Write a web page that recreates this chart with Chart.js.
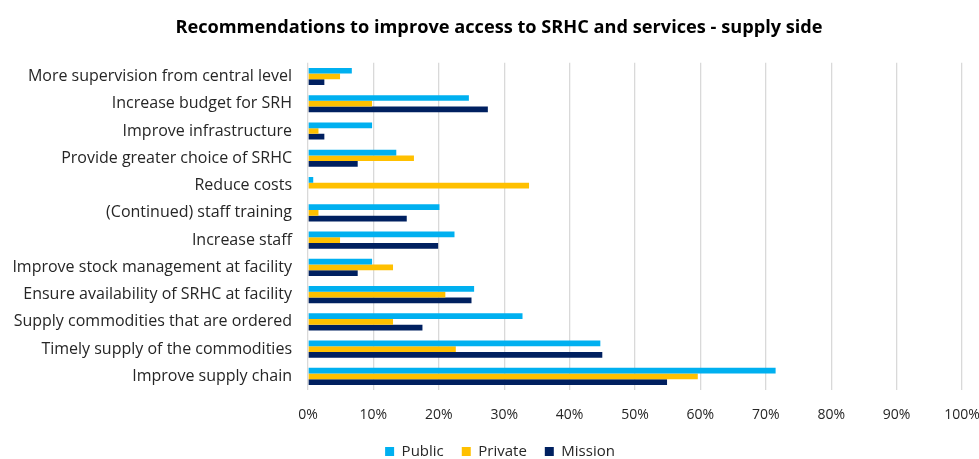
<!DOCTYPE html>
<html>
<head>
<meta charset="utf-8">
<script src="https://cdn.jsdelivr.net/npm/chart.js@4"></script>
<style>
  html, body { margin: 0; padding: 0; background: #fff; }
  #wrap { width: 979px; height: 459px; }
</style>
</head>
<body>
<div id="wrap"><canvas id="chart"></canvas></div>
<script>
const categories = [
  'More supervision from central level',
  'Increase budget for SRH',
  'Improve infrastructure',
  'Provide greater choice of SRHC',
  'Reduce costs',
  '(Continued) staff training',
  'Increase staff',
  'Improve stock management at facility',
  'Ensure availability of SRHC at facility',
  'Supply commodities that are ordered',
  'Timely supply of the commodities',
  'Improve supply chain'
];

// share of respondents (%)
const publicValues  = [6.7, 24.6, 9.8, 13.5, 0.8, 20.1, 22.4, 9.8, 25.4, 32.8, 44.7, 71.5];
const privateValues = [4.9, 9.8, 1.6, 16.2, 33.8, 1.6, 4.9, 13.0, 21.0, 13.0, 22.6, 59.6];
const missionValues = [2.5, 27.5, 2.5, 7.6, 0, 15.1, 19.9, 7.6, 25.0, 17.5, 45.0, 54.9];

const xTicks = [0, 10, 20, 30, 40, 50, 60, 70, 80, 90, 100];

const FONT = 'Open Sans';
const TEXT = '#262626';

// fixed legend height so the bottom band lines up
const legendHeight = {
  id: 'legendHeight',
  beforeInit(chart) {
    const fit = chart.legend.fit;
    chart.legend.fit = function () {
      fit.call(this);
      this.height = 33;
    };
  }
};

// centre title and legend a little right of the canvas middle
const shiftBlocks = {
  id: 'shiftBlocks',
  afterLayout(chart) {
    chart.titleBlock.left = 19;
    chart.legend.left = 21;
  }
};

const ctx = document.getElementById('chart').getContext('2d');

new Chart(ctx, {
  type: 'bar',
  data: {
    labels: categories,
    datasets: [
      { label: 'Public',  data: publicValues,  backgroundColor: '#00B0F0' },
      { label: 'Private', data: privateValues, backgroundColor: '#FFC000' },
      { label: 'Mission', data: missionValues, backgroundColor: '#002060' }
    ]
  },
  plugins: [legendHeight, shiftBlocks],
  options: {
    indexAxis: 'y',
    responsive: true,
    maintainAspectRatio: false,
    animation: false,
    layout: { padding: { left: 0, right: 0, top: 0, bottom: 0 } },
    datasets: {
      bar: { categoryPercentage: 0.63, barPercentage: 1.0 }
    },
    scales: {
      x: {
        min: 0,
        max: 100,
        afterBuildTicks: (scale) => {
          scale.ticks = xTicks.map(v => ({ value: v }));
        },
        afterFit: (scale) => {
          scale.height = 36;
          scale.paddingRight = 17;
        },
        ticks: {
          callback: (v) => v + '%',
          color: TEXT,
          font: { family: FONT, size: 14 },
          padding: 17
        },
        grid: { color: '#D9D9D9', lineWidth: 1.3, drawTicks: false },
        border: { display: false }
      },
      y: {
        afterFit: (scale) => { scale.width = 308; },
        ticks: {
          color: TEXT,
          font: { family: FONT, size: 16 },
          padding: 16
        },
        grid: { display: false, drawTicks: false },
        border: { display: false }
      }
    },
    plugins: {
      title: {
        display: true,
        text: 'Recommendations to improve access to SRHC and services - supply side',
        color: '#000',
        font: { family: FONT, size: 18.2, weight: 'bold' },
        padding: { top: 17, bottom: 24 }
      },
      legend: {
        position: 'bottom',
        labels: {
          color: TEXT,
          font: { family: FONT, size: 15 },
          boxWidth: 9,
          boxHeight: 9,
          padding: 18
        }
      },
      tooltip: { enabled: false }
    }
  }
});
</script>
</body>
</html>
